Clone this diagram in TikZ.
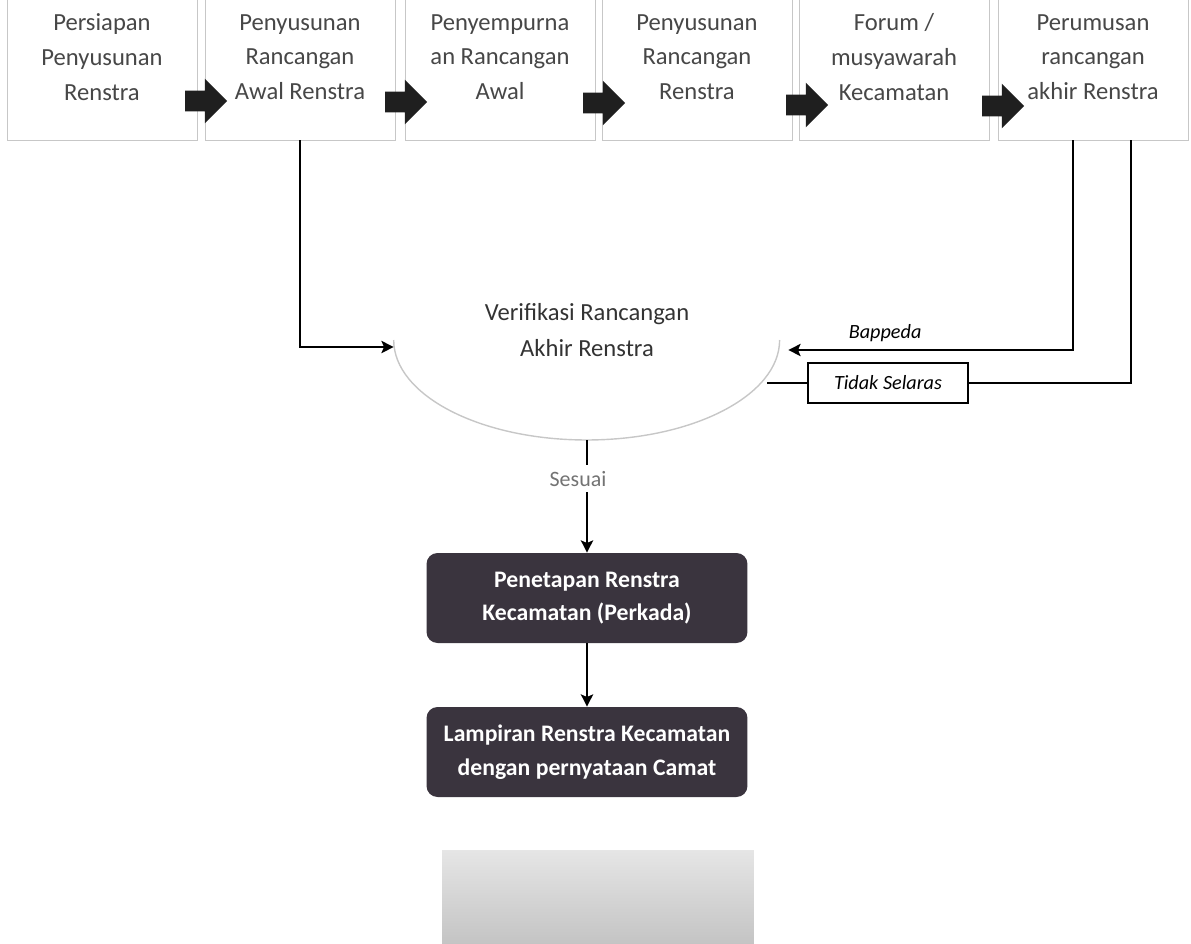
\documentclass[tikz,border=0pt]{standalone}
\usepackage{fontspec}
\setmainfont{Carlito}
\usepackage{tikz}
\usetikzlibrary{shapes.geometric}
\usetikzlibrary{shapes.arrows}
\usetikzlibrary{arrows.meta}
\definecolor{boxdark}{RGB}{58,52,62}

\begin{document}
\begin{tikzpicture}[x=0.02cm, y=-0.02cm,
    stepbox/.style={draw=black!22, fill=white, minimum width=3.8cm, minimum height=3cm, inner sep=0pt},
    steptext/.style={align=center, text=black!72, font=\fontsize{14}{19.8}\selectfont},
    blockarrow/.style={single arrow, fill=black!88, minimum height=0.84cm, inner xsep=0pt, inner ysep=0.2cm, single arrow head extend=0.24cm},
    darkbox/.style={rounded corners=0.22cm, fill=boxdark, text=white, align=center, minimum width=6.42cm, minimum height=1.8cm, font=\bfseries\fontsize{13.5}{19}\selectfont},
    flow/.style={line width=0.9pt, -{Stealth[length=7pt, width=7pt, inset=1.5pt]}},
    plain/.style={line width=0.9pt}]

    \useasboundingbox (0, 0) rectangle (1191, 944);
    \clip (0, 0) rectangle (1191, 944);

    \node[stepbox]   (b1) at (102, 65)    {};
    \node[stepbox]   (b2) at (300, 65)    {};
    \node[stepbox]   (b3) at (500, 65)    {};
    \node[stepbox]   (b4) at (697, 65)    {};
    \node[stepbox]   (b5) at (894, 65)    {};
    \node[stepbox]   (b6) at (1093, 65)   {};

    \node[steptext]  (t1) at (102, 57)    {Persiapan\\Penyusunan\\Renstra};
    \node[steptext]  (t2) at (300, 57)    {Penyusunan\\Rancangan\\Awal Renstra};
    \node[steptext]  (t3) at (500, 57)    {Penyempurna\\an Rancangan\\Awal};
    \node[steptext]  (t4) at (697, 57)    {Penyusunan\\Rancangan\\Renstra};
    \node[steptext]  (t5) at (894, 57)    {Forum /\\musyawarah\\Kecamatan};
    \node[steptext]  (t6) at (1093, 57)   {Perumusan\\rancangan\\akhir Renstra};

    \node[blockarrow] (a1) at (201, 101)  {};
    \node[blockarrow] (a2) at (401, 102)  {};
    \node[blockarrow] (a3) at (599, 103)  {};
    \node[blockarrow] (a4) at (802, 105)  {};
    \node[blockarrow] (a5) at (998, 106)  {};

    \node[ellipse, minimum width=7.72cm, minimum height=4cm, inner sep=0pt] (verif) at (587, 340) {};
    \node[align=center, text=black!80, font=\fontsize{14}{20.4}\selectfont] (veriftext) at (587, 330) {Verifikasi Rancangan\\Akhir Renstra};
    \draw[black!22, line width=0.8pt] (verif.west) arc[start angle=180, end angle=360, x radius=3.86cm, y radius=2cm];

    \node[draw, line width=1.3pt, minimum width=3.2cm, minimum height=0.8cm, font=\itshape\fontsize{11.5}{14}\selectfont] (tidak) at (888, 383) {Tidak Selaras};
    \coordinate (tsend) at (767, 383);

    \node[darkbox]   (pen)  at (587, 598) {Penetapan Renstra\\Kecamatan (Perkada)};
    \node[darkbox]   (lamp) at (587, 752) {Lampiran Renstra Kecamatan\\dengan pernyataan Camat};
    \node[top color=black!10, bottom color=black!24, minimum width=6.24cm, minimum height=2cm] (ghost) at (598, 900) {};

    \draw[flow] (b2.south) |- ([yshift=-0.14cm]verif.west);
    \draw[flow] ([xshift=-0.4cm]b6.south) |- node[pos=0.83, above=1pt, font=\itshape\fontsize{11.5}{14}\selectfont] (bappeda) {Bappeda} ([xshift=0.16cm, yshift=-0.2cm]verif.east);
    \draw[plain] ([xshift=0.76cm]b6.south) |- (tidak.east);
    \draw[plain] (tidak.west) -- (tsend);
    \draw[flow] (verif.south) -- node[pos=0.34, xshift=-0.18cm, fill=white, text=black!55, font=\fontsize{12.5}{14}\selectfont] (sesuai) {Sesuai} (pen.north);
    \draw[flow] (pen.south) -- (lamp.north);
  \end{tikzpicture}
\end{document}
